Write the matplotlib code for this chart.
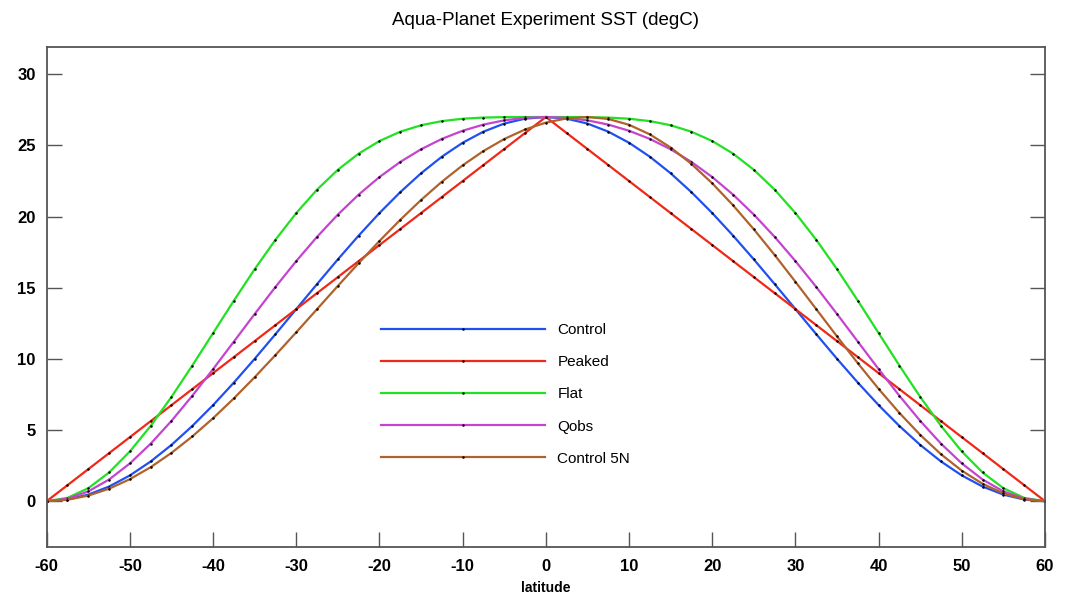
import matplotlib
matplotlib.use('Agg')
import matplotlib.pyplot as plt
import numpy as np

plt.rcParams['axes.unicode_minus'] = False

lat = [-60, -57.5, -55, -52.5, -50, -47.5, -45, -42.5, -40, -37.5, -35, -32.5, -30,
       -27.5, -25, -22.5, -20, -17.5, -15, -12.5, -10, -7.5, -5, -2.5, 0,
       2.5, 5, 7.5, 10, 12.5, 15, 17.5, 20, 22.5, 25, 27.5, 30,
       32.5, 35, 37.5, 40, 42.5, 45, 47.5, 50, 52.5, 55, 57.5, 60]

control = [0.0, 0.116, 0.460, 1.028, 1.809, 2.790, 3.954, 5.282, 6.750, 8.334, 10.006, 11.738, 13.500,
           15.262, 16.994, 18.666, 20.250, 21.718, 23.046, 24.210, 25.191, 25.972, 26.540, 26.885, 27.0,
           26.885, 26.540, 25.972, 25.191, 24.210, 23.046, 21.718, 20.250, 18.666, 16.994, 15.262, 13.500,
           11.738, 10.006, 8.334, 6.750, 5.282, 3.954, 2.790, 1.809, 1.028, 0.460, 0.116, 0.0]

peaked = [0.0, 1.125, 2.25, 3.375, 4.5, 5.625, 6.75, 7.875, 9.0, 10.125, 11.25, 12.375, 13.5,
          14.625, 15.75, 16.875, 18.0, 19.125, 20.25, 21.375, 22.5, 23.625, 24.75, 25.875, 27.0,
          25.875, 24.75, 23.625, 22.5, 21.375, 20.25, 19.125, 18.0, 16.875, 15.75, 14.625, 13.5,
          12.375, 11.25, 10.125, 9.0, 7.875, 6.75, 5.625, 4.5, 3.375, 2.25, 1.125, 0.0]

flat = [0.0, 0.231, 0.912, 2.016, 3.496, 5.291, 7.329, 9.530, 11.813, 14.095, 16.304, 18.373, 20.250,
        21.897, 23.292, 24.428, 25.313, 25.967, 26.421, 26.712, 26.879, 26.961, 26.992, 27.0, 27.0,
        27.0, 26.992, 26.961, 26.879, 26.712, 26.421, 25.967, 25.313, 24.428, 23.292, 21.897, 20.250,
        18.373, 16.304, 14.095, 11.813, 9.530, 7.329, 5.291, 3.496, 2.016, 0.912, 0.231, 0.0]

qobs = [0.0, 0.173, 0.686, 1.522, 2.653, 4.041, 5.642, 7.406, 9.281, 11.215, 13.155, 15.056, 16.875,
        18.580, 20.143, 21.547, 22.781, 23.843, 24.734, 25.461, 26.035, 26.467, 26.766, 26.942, 27.0,
        26.942, 26.766, 26.467, 26.035, 25.461, 24.734, 23.843, 22.781, 21.547, 20.143, 18.580, 16.875,
        15.056, 13.155, 11.215, 9.281, 7.406, 5.642, 4.041, 2.653, 1.522, 0.686, 0.173, 0.0]

control5n = [0.0, 0.098, 0.392, 0.877, 1.546, 2.390, 3.395, 4.548, 5.831, 7.225, 8.713, 10.269, 11.870,
             13.500, 15.128, 16.731, 18.287, 19.774, 21.169, 22.452, 23.605, 24.610, 25.454, 26.123, 26.608,
             26.902, 27.0, 26.863, 26.453, 25.780, 24.857, 23.703, 22.341, 20.799, 19.108, 17.303, 15.421,
             13.500, 11.579, 9.697, 7.892, 6.201, 4.659, 3.297, 2.143, 1.220, 0.547, 0.137, 0.0]

series = [('Control', control, '#2050f0'),
          ('Peaked', peaked, '#f02818'),
          ('Flat', flat, '#22e022'),
          ('Qobs', qobs, '#c444d0'),
          ('Control 5N', control5n, '#b0622c')]

fig = plt.figure(figsize=(10.66, 5.97), dpi=100)
ax = fig.add_axes([46.7 / 1066, 1 - 546.7 / 597, (1045 - 46.7) / 1066, (546.7 - 47.3) / 597])

for name, vals, col in series:
    ax.plot(lat, vals, color=col, lw=1.6, label=name,
            marker='.', ms=1.6, mfc='black', mec='black')

ax.set_xlim(-60, 60)
ax.set_ylim(-3.2, 31.9)
ax.set_xticks(np.arange(-60, 61, 10))
ax.set_yticks(np.arange(0, 31, 5))
ax.tick_params(direction='in', length=11, width=1, color='#555555',
               labelsize=12, right=True, top=False)
ax.tick_params(axis='x', pad=9)
ax.tick_params(axis='y', pad=8)
for lab in ax.get_xticklabels() + ax.get_yticklabels():
    lab.set_fontweight('bold')
    lab.set_family('Liberation Sans')
for sp in ax.spines.values():
    sp.set_color('#555555')
    sp.set_linewidth(1.3)

ax.set_title('Aqua-Planet Experiment SST (degC)', fontsize=13.5,
             family='Liberation Sans', pad=16)
ax.set_xlabel('latitude', fontsize=10, fontweight='bold', family='Liberation Sans', labelpad=5)

leg = ax.legend(loc='center left', bbox_to_anchor=(0.3349, 0.3048), frameon=False,
                handlelength=10.7, handletextpad=0.85, labelspacing=1.18,
                borderpad=0, borderaxespad=0, numpoints=1,
                prop={'family': 'Liberation Sans', 'size': 11})

fig.savefig('out.png', dpi=100)
